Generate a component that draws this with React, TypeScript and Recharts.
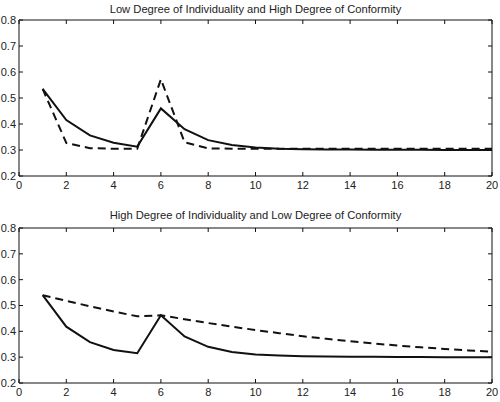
import React from 'react';
import { LineChart, Line, XAxis, YAxis } from 'recharts';

// Periods on the horizontal axis
const periods = [1, 2, 3, 4, 5, 6, 7, 8, 9, 10, 11, 12, 13, 14, 15, 16, 17, 18, 19, 20];

// Panel 1: low individuality, high conformity
const lowIndivSolid = [0.535, 0.415, 0.356, 0.328, 0.313, 0.46, 0.38, 0.338, 0.319, 0.31, 0.305, 0.303, 0.302, 0.302, 0.301, 0.301, 0.301, 0.3, 0.3, 0.3];
const lowIndivDashed = [0.535, 0.327, 0.307, 0.305, 0.305, 0.572, 0.33, 0.306, 0.305, 0.305, 0.305, 0.305, 0.305, 0.305, 0.305, 0.305, 0.305, 0.305, 0.305, 0.305];

// Panel 2: high individuality, low conformity
const highIndivSolid = [0.54, 0.418, 0.358, 0.328, 0.315, 0.462, 0.38, 0.34, 0.32, 0.31, 0.306, 0.304, 0.303, 0.302, 0.302, 0.301, 0.301, 0.3, 0.3, 0.3];
const highIndivDashed = [0.54, 0.518, 0.497, 0.477, 0.458, 0.462, 0.447, 0.432, 0.418, 0.405, 0.393, 0.381, 0.371, 0.362, 0.353, 0.345, 0.338, 0.332, 0.326, 0.321];

const xTicks = [0, 2, 4, 6, 8, 10, 12, 14, 16, 18, 20];
const yTicks = [0.2, 0.3, 0.4, 0.5, 0.6, 0.7, 0.8];

const FONT = '"Liberation Sans", Arial, Helvetica, sans-serif';
const INK = '#111';
const TICK_LEN = 4;

const toRows = (solid: number[], dashed: number[]) =>
  periods.map((t, i) => ({ t, solid: solid[i], dashed: dashed[i] }));

const BottomTick = ({ x, y, payload }: any) => (
  <g>
    <line x1={x} y1={y} x2={x} y2={y - TICK_LEN} stroke={INK} strokeWidth={1} />
    <text x={x} y={y + 9} dy="0.35em" textAnchor="middle" fontSize={11} fill="#222" fontFamily={FONT}>
      {payload.value}
    </text>
  </g>
);

const TopTick = ({ x, y }: any) => (
  <line x1={x} y1={y} x2={x} y2={y + TICK_LEN} stroke={INK} strokeWidth={1} />
);

const LeftTick = ({ x, y, payload }: any) => (
  <g>
    <line x1={x} y1={y} x2={x + TICK_LEN} y2={y} stroke={INK} strokeWidth={1} />
    <text x={x - 3} y={y} dy="0.35em" textAnchor="end" fontSize={11} fill="#222" fontFamily={FONT}>
      {payload.value.toFixed(1)}
    </text>
  </g>
);

const RightTick = ({ x, y }: any) => (
  <line x1={x} y1={y} x2={x - TICK_LEN} y2={y} stroke={INK} strokeWidth={1} />
);

interface PanelProps {
  title: string;
  solid: number[];
  dashed: number[];
  height: number;
  top: number;
  bottomAxis: number;
  titleY: number;
}

const Panel = ({ title, solid, dashed, height, top, bottomAxis, titleY }: PanelProps) => (
  <div style={{ position: 'relative', width: 500, height }}>
    <div
      style={{
        position: 'absolute',
        left: 19,
        width: 473,
        top: titleY - 7,
        height: 14,
        lineHeight: '14px',
        textAlign: 'center',
        fontFamily: FONT,
        fontSize: 11.2,
        color: '#222'
      }}
    >
      {title}
    </div>
    <LineChart
      width={500}
      height={height}
      data={toRows(solid, dashed)}
      margin={{ top: top - 1, right: 0, bottom: 0, left: 0 }}
    >
      <XAxis
        dataKey="t"
        type="number"
        domain={[0, 20]}
        ticks={xTicks}
        height={bottomAxis}
        tickSize={0}
        tickMargin={0}
        tickLine={false}
        axisLine={{ stroke: INK }}
        tick={<BottomTick />}
        allowDataOverflow
      />
      <XAxis
        xAxisId="top"
        orientation="top"
        dataKey="t"
        type="number"
        domain={[0, 20]}
        ticks={xTicks}
        height={1}
        tickSize={0}
        tickMargin={0}
        tickLine={false}
        axisLine={{ stroke: INK }}
        tick={<TopTick />}
        allowDataOverflow
      />
      <YAxis
        type="number"
        domain={[0.2, 0.8]}
        ticks={yTicks}
        width={19}
        tickSize={0}
        tickMargin={0}
        tickLine={false}
        axisLine={{ stroke: INK }}
        tick={<LeftTick />}
        allowDataOverflow
      />
      <YAxis
        yAxisId="right"
        orientation="right"
        type="number"
        domain={[0.2, 0.8]}
        ticks={yTicks}
        width={8}
        tickSize={0}
        tickMargin={0}
        tickLine={false}
        axisLine={{ stroke: INK }}
        tick={<RightTick />}
        allowDataOverflow
      />
      <Line
        type="linear"
        dataKey="dashed"
        stroke={INK}
        strokeWidth={2}
        strokeDasharray="8 5"
        dot={false}
        isAnimationActive={false}
      />
      <Line
        type="linear"
        dataKey="solid"
        stroke={INK}
        strokeWidth={2}
        dot={false}
        isAnimationActive={false}
      />
    </LineChart>
  </div>
);

export default function App() {
  return (
    <div style={{ position: 'absolute', left: 0, top: 0, width: 500, height: 402, background: '#fff' }}>
      <Panel
        title="Low Degree of Individuality and High Degree of Conformity"
        solid={lowIndivSolid}
        dashed={lowIndivDashed}
        height={200}
        top={20}
        bottomAxis={24}
        titleY={9}
      />
      <Panel
        title="High Degree of Individuality and Low Degree of Conformity"
        solid={highIndivSolid}
        dashed={highIndivDashed}
        height={202}
        top={28}
        bottomAxis={19}
        titleY={15}
      />
    </div>
  );
}
